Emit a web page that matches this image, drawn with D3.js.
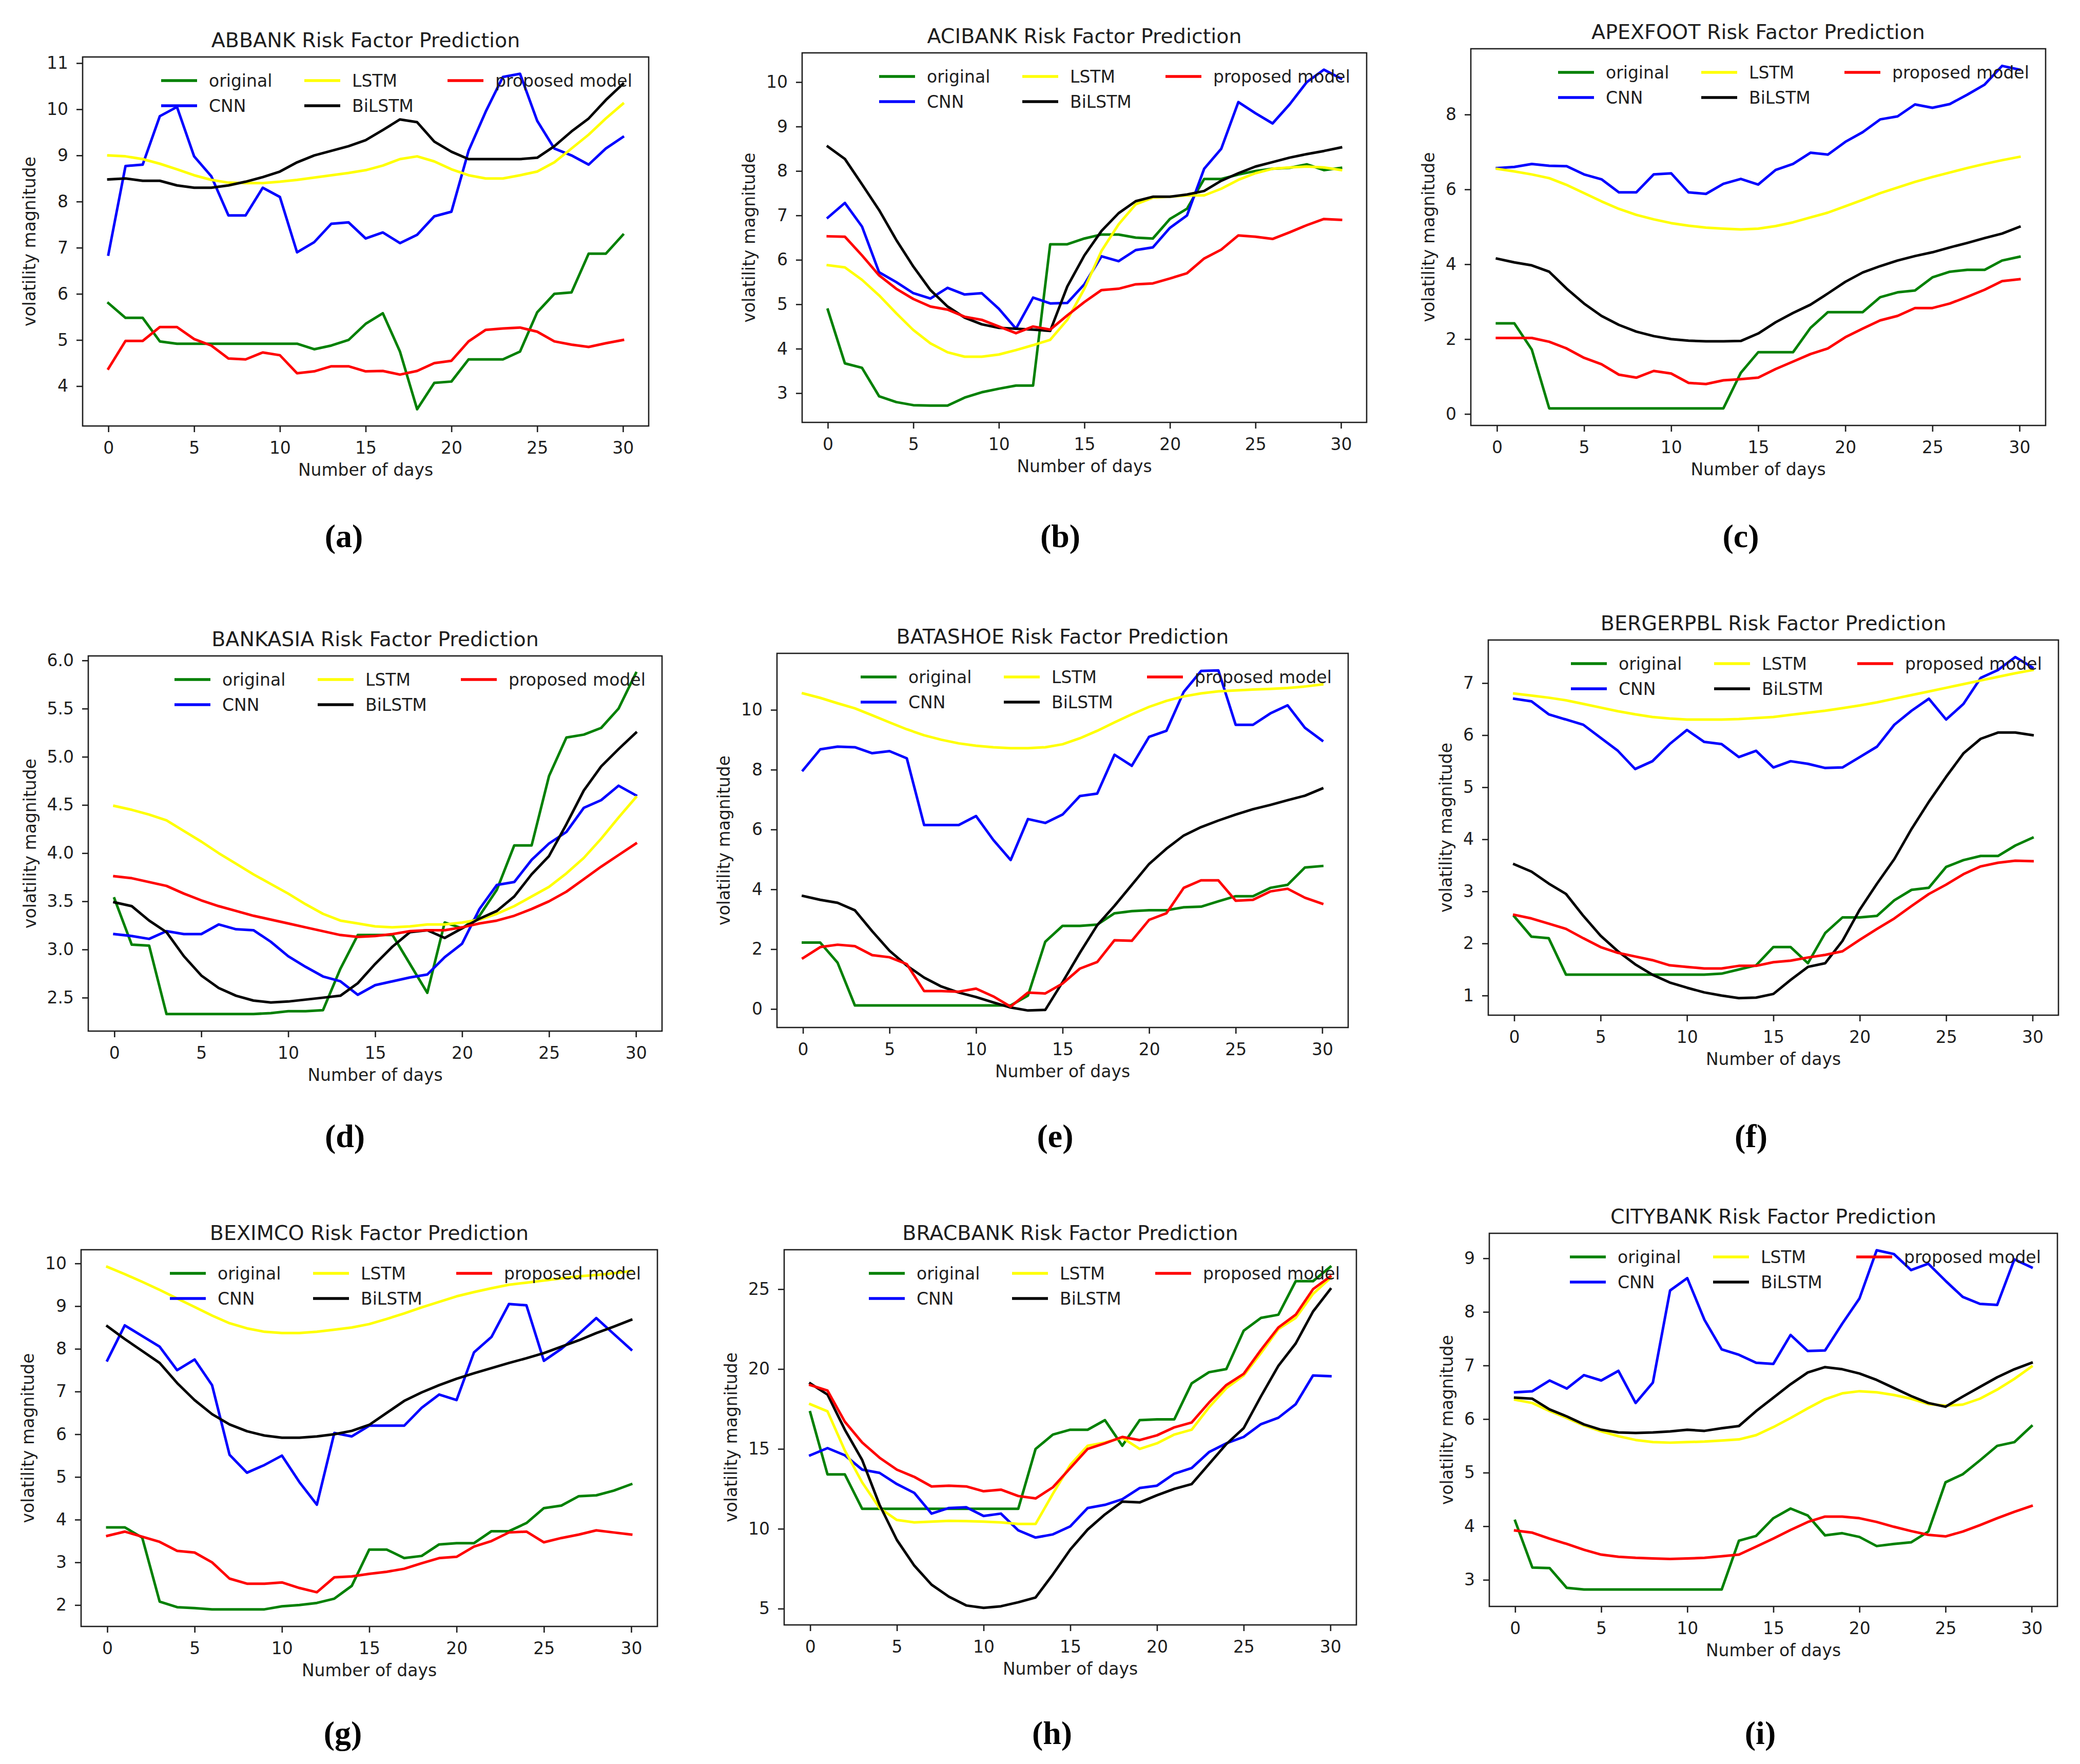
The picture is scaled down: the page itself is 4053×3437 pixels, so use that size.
<!DOCTYPE html>
<html>
<head>
<meta charset="utf-8">
<script src="https://cdn.jsdelivr.net/npm/d3@7"></script>
<style>
  body { margin: 0; background: #fff; }
</style>
</head>
<body>
<svg id="fig" width="4053" height="3437"></svg>
<script>
// ---- data ----
const days = [0,1,2,3,4,5,6,7,8,9,10,11,12,13,14,15,16,17,18,19,20,21,22,23,24,25,26,27,28,29,30];
const xTicks = [0,5,10,15,20,25,30];
const seriesNames = ["original", "CNN", "LSTM", "BiLSTM", "proposed model"];
const titles = ["ABBANK", "ACIBANK", "APEXFOOT", "BANKASIA", "BATASHOE", "BERGERPBL", "BEXIMCO", "BRACBANK", "CITYBANK"];
const subLabels = ["(a)", "(b)", "(c)", "(d)", "(e)", "(f)", "(g)", "(h)", "(i)"];

const abbankOriginal = [5.8,5.48,5.48,4.97,4.92,4.92,4.92,4.92,4.92,4.92,4.92,4.92,4.8,4.88,5.0,5.35,5.58,4.75,3.5,4.07,4.1,4.58,4.58,4.58,4.75,5.6,6.0,6.03,6.87,6.87,7.28];
const abbankCNN = [6.85,8.77,8.8,9.85,10.05,8.98,8.55,7.7,7.7,8.3,8.1,6.9,7.12,7.52,7.55,7.2,7.33,7.1,7.28,7.68,7.78,9.1,9.95,10.7,10.77,9.75,9.15,9.0,8.8,9.15,9.4];
const abbankLSTM = [9.0,8.98,8.92,8.82,8.7,8.57,8.47,8.41,8.4,8.4,8.43,8.47,8.52,8.57,8.62,8.68,8.78,8.92,8.98,8.87,8.7,8.57,8.5,8.5,8.57,8.65,8.85,9.15,9.45,9.8,10.12];
const abbankBiLSTM = [8.48,8.5,8.45,8.45,8.35,8.3,8.3,8.35,8.43,8.53,8.65,8.85,9.0,9.1,9.2,9.33,9.55,9.78,9.72,9.3,9.08,8.92,8.92,8.92,8.92,8.95,9.2,9.52,9.8,10.2,10.55];
const abbankProposed = [4.38,4.98,4.98,5.28,5.28,5.02,4.88,4.6,4.58,4.73,4.67,4.28,4.32,4.43,4.43,4.32,4.33,4.25,4.33,4.5,4.55,4.97,5.22,5.25,5.27,5.18,4.97,4.9,4.85,4.93,5.0];

const acibankOriginal = [4.88,3.67,3.57,2.93,2.8,2.73,2.72,2.72,2.9,3.02,3.1,3.17,3.17,6.35,6.35,6.48,6.57,6.57,6.5,6.48,6.92,7.15,7.82,7.82,7.92,8.0,8.05,8.07,8.15,8.02,8.07];
const acibankCNN = [6.95,7.28,6.75,5.72,5.5,5.25,5.13,5.37,5.22,5.25,4.9,4.45,5.15,5.02,5.03,5.45,6.08,5.97,6.22,6.28,6.72,7.0,8.05,8.5,9.55,9.3,9.07,9.5,10.0,10.28,10.08];
const acibankLSTM = [5.88,5.83,5.55,5.2,4.8,4.42,4.12,3.92,3.82,3.82,3.87,3.97,4.08,4.2,4.65,5.35,6.2,6.8,7.25,7.4,7.42,7.45,7.45,7.6,7.8,7.95,8.05,8.08,8.1,8.08,8.02];
const acibankBiLSTM = [8.55,8.27,7.7,7.12,6.45,5.85,5.32,4.95,4.7,4.55,4.47,4.45,4.43,4.4,5.4,6.1,6.65,7.05,7.32,7.42,7.42,7.47,7.55,7.78,7.95,8.1,8.2,8.3,8.38,8.45,8.53];
const acibankProposed = [6.53,6.52,6.1,5.65,5.35,5.12,4.95,4.88,4.72,4.65,4.5,4.35,4.5,4.43,4.75,5.05,5.32,5.35,5.45,5.47,5.58,5.7,6.03,6.23,6.55,6.52,6.47,6.62,6.78,6.92,6.9];

const apexOriginal = [2.42,2.42,1.72,0.15,0.15,0.15,0.15,0.15,0.15,0.15,0.15,0.15,0.15,0.15,1.1,1.65,1.65,1.65,2.3,2.72,2.72,2.72,3.12,3.25,3.3,3.65,3.8,3.85,3.85,4.1,4.2];
const apexCNN = [6.57,6.6,6.68,6.63,6.62,6.4,6.27,5.92,5.92,6.4,6.43,5.92,5.88,6.15,6.28,6.13,6.52,6.68,6.98,6.93,7.27,7.53,7.87,7.95,8.27,8.18,8.28,8.53,8.8,9.3,9.2];
const apexLSTM = [6.55,6.48,6.4,6.3,6.12,5.9,5.68,5.48,5.32,5.2,5.1,5.03,4.98,4.95,4.93,4.95,5.02,5.12,5.25,5.38,5.55,5.72,5.9,6.05,6.2,6.33,6.45,6.57,6.68,6.78,6.87];
const apexBiLSTM = [4.15,4.05,3.97,3.8,3.35,2.95,2.62,2.38,2.2,2.08,2.0,1.96,1.94,1.94,1.95,2.15,2.45,2.7,2.92,3.22,3.53,3.78,3.95,4.1,4.22,4.32,4.45,4.57,4.7,4.82,5.0];
const apexProposed = [2.03,2.03,2.03,1.93,1.75,1.5,1.33,1.05,0.97,1.15,1.08,0.83,0.8,0.9,0.93,0.97,1.2,1.4,1.6,1.75,2.05,2.28,2.5,2.62,2.83,2.83,2.95,3.13,3.32,3.55,3.6];

const bankasiaOriginal = [3.53,3.05,3.04,2.33,2.33,2.33,2.33,2.33,2.33,2.34,2.36,2.36,2.37,2.8,3.15,3.15,3.15,2.85,2.55,3.28,3.22,3.35,3.62,4.08,4.08,4.8,5.2,5.23,5.3,5.5,5.87];
const bankasiaCNN = [3.16,3.14,3.11,3.19,3.16,3.16,3.26,3.21,3.2,3.08,2.93,2.82,2.72,2.67,2.53,2.63,2.67,2.71,2.74,2.92,3.06,3.42,3.67,3.7,3.93,4.1,4.22,4.47,4.55,4.7,4.6];
const bankasiaLSTM = [4.49,4.45,4.4,4.34,4.23,4.12,4.0,3.89,3.78,3.68,3.58,3.47,3.37,3.3,3.27,3.24,3.23,3.24,3.26,3.26,3.28,3.31,3.37,3.45,3.55,3.65,3.79,3.95,4.15,4.37,4.58];
const bankasiaBiLSTM = [3.49,3.45,3.3,3.18,2.93,2.73,2.6,2.52,2.47,2.45,2.46,2.48,2.5,2.52,2.65,2.85,3.03,3.18,3.2,3.12,3.22,3.32,3.4,3.55,3.78,3.97,4.3,4.65,4.9,5.08,5.25];
const bankasiaProposed = [3.76,3.74,3.7,3.66,3.58,3.51,3.45,3.4,3.35,3.31,3.27,3.23,3.19,3.15,3.13,3.14,3.16,3.19,3.2,3.2,3.23,3.27,3.3,3.35,3.42,3.5,3.6,3.73,3.86,3.98,4.1];

const batashoeOriginal = [2.22,2.22,1.55,0.12,0.12,0.12,0.12,0.12,0.12,0.12,0.12,0.12,0.12,0.45,2.25,2.78,2.78,2.82,3.2,3.27,3.3,3.3,3.4,3.42,3.6,3.77,3.77,4.05,4.15,4.73,4.78];
const batashoeCNN = [7.98,8.68,8.77,8.75,8.55,8.62,8.38,6.15,6.15,6.15,6.45,5.65,4.98,6.35,6.22,6.5,7.12,7.2,8.5,8.13,9.1,9.3,10.6,11.3,11.32,9.5,9.5,9.88,10.15,9.4,8.97];
const batashoeLSTM = [10.55,10.4,10.22,10.05,9.82,9.58,9.35,9.15,9.0,8.88,8.8,8.75,8.72,8.72,8.75,8.85,9.05,9.3,9.58,9.85,10.1,10.3,10.45,10.55,10.62,10.65,10.68,10.7,10.73,10.78,10.85];
const batashoeBiLSTM = [3.78,3.65,3.55,3.3,2.6,1.95,1.45,1.05,0.75,0.55,0.4,0.22,0.05,-0.05,-0.03,0.9,1.88,2.8,3.45,4.15,4.85,5.36,5.8,6.08,6.3,6.5,6.68,6.82,6.98,7.13,7.37];
const batashoeProposed = [1.7,2.07,2.15,2.1,1.8,1.73,1.5,0.6,0.6,0.58,0.68,0.42,0.08,0.55,0.52,0.85,1.35,1.57,2.3,2.28,2.98,3.2,4.05,4.3,4.3,3.62,3.65,3.93,4.02,3.72,3.52];

const bergerOriginal = [2.52,2.13,2.1,1.4,1.4,1.4,1.4,1.4,1.4,1.4,1.4,1.4,1.42,1.5,1.58,1.93,1.93,1.62,2.2,2.5,2.5,2.53,2.83,3.03,3.07,3.47,3.6,3.68,3.68,3.88,4.03];
const bergerCNN = [6.7,6.65,6.4,6.3,6.2,5.95,5.7,5.35,5.5,5.83,6.1,5.87,5.83,5.58,5.7,5.38,5.5,5.45,5.37,5.38,5.58,5.78,6.2,6.47,6.7,6.3,6.6,7.1,7.25,7.5,7.3];
const bergerLSTM = [6.8,6.76,6.72,6.67,6.6,6.53,6.46,6.4,6.35,6.32,6.3,6.3,6.3,6.31,6.33,6.35,6.39,6.43,6.47,6.52,6.57,6.63,6.7,6.77,6.84,6.91,6.98,7.05,7.12,7.19,7.25];
const bergerBiLSTM = [3.52,3.38,3.15,2.95,2.53,2.15,1.85,1.6,1.4,1.25,1.15,1.06,1.0,0.95,0.96,1.03,1.3,1.55,1.62,2.05,2.65,3.15,3.62,4.2,4.72,5.2,5.65,5.93,6.05,6.05,6.0];
const bergerProposed = [2.55,2.48,2.38,2.28,2.1,1.93,1.82,1.75,1.68,1.58,1.55,1.52,1.52,1.57,1.57,1.64,1.67,1.73,1.78,1.85,2.07,2.28,2.48,2.72,2.95,3.13,3.33,3.48,3.55,3.59,3.58];

const beximcoOriginal = [3.82,3.82,3.58,2.08,1.95,1.93,1.9,1.9,1.9,1.9,1.97,2.0,2.05,2.15,2.45,3.3,3.3,3.1,3.15,3.42,3.45,3.45,3.73,3.73,3.92,4.27,4.33,4.55,4.57,4.68,4.83];
const beximcoCNN = [7.73,8.55,8.3,8.05,7.5,7.75,7.15,5.52,5.1,5.28,5.5,4.88,4.35,6.03,5.95,6.2,6.2,6.2,6.62,6.93,6.8,7.92,8.28,9.05,9.02,7.72,8.0,8.35,8.72,8.35,7.98];
const beximcoLSTM = [9.92,9.75,9.57,9.38,9.18,8.98,8.78,8.6,8.48,8.4,8.37,8.37,8.4,8.45,8.5,8.58,8.7,8.83,8.97,9.1,9.23,9.33,9.42,9.5,9.55,9.6,9.65,9.7,9.73,9.77,9.82];
const beximcoBiLSTM = [8.53,8.23,7.95,7.67,7.2,6.8,6.47,6.23,6.07,5.97,5.92,5.92,5.95,6.0,6.08,6.22,6.5,6.78,6.98,7.15,7.3,7.43,7.55,7.67,7.78,7.9,8.05,8.2,8.37,8.52,8.68];
const beximcoProposed = [3.62,3.72,3.6,3.48,3.27,3.23,3.0,2.62,2.5,2.5,2.53,2.4,2.3,2.65,2.67,2.73,2.78,2.85,2.98,3.1,3.13,3.37,3.5,3.7,3.72,3.47,3.57,3.65,3.75,3.7,3.65];

const bracOriginal = [17.3,13.4,13.4,11.25,11.25,11.25,11.25,11.25,11.25,11.25,11.25,11.25,11.25,15.0,15.9,16.2,16.2,16.8,15.2,16.8,16.85,16.85,19.1,19.8,20.0,22.4,23.2,23.4,25.5,25.5,26.4];
const bracCNN = [14.6,15.05,14.6,13.7,13.5,12.8,12.25,10.95,11.3,11.35,10.8,10.95,9.9,9.45,9.65,10.15,11.3,11.5,11.85,12.55,12.7,13.45,13.8,14.8,15.35,15.75,16.55,16.95,17.8,19.6,19.55];
const bracLSTM = [17.8,17.35,14.9,12.9,11.3,10.55,10.4,10.45,10.5,10.48,10.45,10.4,10.3,10.3,12.2,14.0,15.2,15.4,15.7,15.0,15.35,15.9,16.2,17.6,18.8,19.6,21.0,22.5,23.2,24.7,25.7];
const bracBiLSTM = [19.1,18.4,16.2,14.3,11.5,9.3,7.7,6.5,5.75,5.2,5.05,5.15,5.4,5.7,7.15,8.7,9.95,10.9,11.7,11.65,12.1,12.5,12.8,14.05,15.3,16.3,18.3,20.2,21.6,23.6,25.0];
const bracProposed = [19.0,18.65,16.7,15.4,14.45,13.7,13.25,12.65,12.7,12.65,12.35,12.45,12.05,11.9,12.6,13.8,15.0,15.35,15.75,15.55,15.85,16.35,16.65,17.9,19.0,19.7,21.2,22.6,23.4,25.0,25.8];

const cityOriginal = [4.1,3.23,3.22,2.85,2.82,2.82,2.82,2.82,2.82,2.82,2.82,2.82,2.82,3.73,3.82,4.15,4.33,4.2,3.83,3.87,3.8,3.63,3.67,3.7,3.9,4.82,4.97,5.23,5.5,5.57,5.87];
const cityCNN = [6.5,6.52,6.72,6.57,6.82,6.72,6.9,6.3,6.68,8.4,8.63,7.85,7.3,7.2,7.05,7.03,7.57,7.27,7.28,7.78,8.25,9.15,9.08,8.78,8.9,8.58,8.28,8.15,8.13,8.98,8.83];
const cityLSTM = [6.36,6.3,6.15,6.02,5.88,5.77,5.68,5.61,5.57,5.56,5.57,5.58,5.6,5.62,5.7,5.85,6.02,6.2,6.37,6.48,6.52,6.5,6.45,6.38,6.28,6.25,6.27,6.38,6.55,6.75,6.98];
const cityBiLSTM = [6.4,6.38,6.18,6.05,5.9,5.8,5.75,5.74,5.75,5.77,5.8,5.78,5.83,5.87,6.15,6.4,6.65,6.87,6.97,6.93,6.85,6.73,6.58,6.43,6.3,6.23,6.42,6.6,6.78,6.93,7.05];
const cityProposed = [3.92,3.88,3.77,3.67,3.56,3.47,3.43,3.41,3.4,3.39,3.4,3.41,3.44,3.47,3.62,3.77,3.93,4.08,4.18,4.18,4.15,4.08,3.99,3.91,3.84,3.81,3.9,4.02,4.15,4.27,4.38];

const yTicks = [
  [4,5,6,7,8,9,10,11],
  [3,4,5,6,7,8,9,10],
  [0,2,4,6,8],
  [2.5,3.0,3.5,4.0,4.5,5.0,5.5,6.0],
  [0,2,4,6,8,10],
  [1,2,3,4,5,6,7],
  [2,3,4,5,6,7,8,9,10],
  [5,10,15,20,25],
  [3,4,5,6,7,8,9]
];
const yFormats = ["d", "d", "d", ".1f", "d", "d", "d", "d", "d"];

const panels = [
  [abbankOriginal, abbankCNN, abbankLSTM, abbankBiLSTM, abbankProposed],
  [acibankOriginal, acibankCNN, acibankLSTM, acibankBiLSTM, acibankProposed],
  [apexOriginal, apexCNN, apexLSTM, apexBiLSTM, apexProposed],
  [bankasiaOriginal, bankasiaCNN, bankasiaLSTM, bankasiaBiLSTM, bankasiaProposed],
  [batashoeOriginal, batashoeCNN, batashoeLSTM, batashoeBiLSTM, batashoeProposed],
  [bergerOriginal, bergerCNN, bergerLSTM, bergerBiLSTM, bergerProposed],
  [beximcoOriginal, beximcoCNN, beximcoLSTM, beximcoBiLSTM, beximcoProposed],
  [bracOriginal, bracCNN, bracLSTM, bracBiLSTM, bracProposed],
  [cityOriginal, cityCNN, cityLSTM, cityBiLSTM, cityProposed]
];

// ---- layout (pixels) ----
const colors = ["green", "blue", "yellow", "black", "red"];
const frames = [
  {l: 161,  r: 1264, t: 111,  b: 830},
  {l: 1563, r: 2663, t: 103,  b: 823},
  {l: 2866, r: 3986, t: 95,   b: 829},
  {l: 172,  r: 1290, t: 1278, b: 2009},
  {l: 1514, r: 2627, t: 1273, b: 2002},
  {l: 2900, r: 4011, t: 1247, b: 1978},
  {l: 158,  r: 1281, t: 2435, b: 3169},
  {l: 1528, r: 2643, t: 2435, b: 3166},
  {l: 2902, r: 4009, t: 2403, b: 3130}
];
const labelPos = [
  [670, 1066], [2066, 1066], [3392, 1066],
  [672, 2235], [2056, 2235], [3412, 2235],
  [668, 3398], [2050, 3398], [3430, 3398]
];
const FONT = "DejaVu Sans";
const fs = 33;          // tick / legend / label size
const ink = "#1e1e1e";

const svg = d3.select("#fig");
svg.append("rect").attr("width", 4053).attr("height", 3437).attr("fill", "#fff");

panels.forEach(function(series, k) {
  const f = frames[k];
  const g = svg.append("g");

  // matplotlib style autoscale: data range plus 5% margin
  const all = series.flat();
  const lo = d3.min(all), hi = d3.max(all), m = (hi - lo) * 0.05;
  const x = d3.scaleLinear().domain([-1.5, 31.5]).range([f.l, f.r]);
  const y = d3.scaleLinear().domain([lo - m, hi + m]).range([f.b, f.t]);

  g.append("clipPath").attr("id", "clip" + k)
    .append("rect").attr("x", f.l).attr("y", f.t).attr("width", f.r - f.l).attr("height", f.b - f.t);

  const line = d3.line()
    .x(function(d, i) { return x(days[i]); })
    .y(function(d) { return y(d); });

  // draw each series
  g.append("g").attr("clip-path", "url(#clip" + k + ")")
    .selectAll("path")
    .data(series)
    .enter()
    .append("path")
      .attr("d", line)
      .attr("fill", "none")
      .attr("stroke", function(d, i) { return colors[i]; })
      .attr("stroke-width", 5)
      .attr("stroke-linejoin", "round")
      .attr("stroke-linecap", "square");

  // frame
  g.append("rect")
    .attr("x", f.l).attr("y", f.t).attr("width", f.r - f.l).attr("height", f.b - f.t)
    .attr("fill", "none").attr("stroke", ink).attr("stroke-width", 2.6);

  // axes
  const xa = g.append("g").attr("transform", "translate(0," + f.b + ")")
    .call(d3.axisBottom(x).tickValues(xTicks).tickFormat(d3.format("d")).tickSize(12).tickSizeOuter(0).tickPadding(19));
  const ya = g.append("g").attr("transform", "translate(" + f.l + ",0)")
    .call(d3.axisLeft(y).tickValues(yTicks[k]).tickFormat(d3.format(yFormats[k])).tickSize(12).tickSizeOuter(0).tickPadding(16));
  [xa, ya].forEach(function(a) {
    a.select(".domain").remove();
    a.attr("font-size", fs).attr("font-family", FONT);
    a.selectAll("line").attr("stroke", ink).attr("stroke-width", 2.6);
    a.selectAll("text").attr("fill", ink);
  });

  let maxW = 0;
  ya.selectAll("text").each(function() { maxW = Math.max(maxW, this.getBBox().width); });

  // title
  g.append("text")
    .attr("x", (f.l + f.r) / 2).attr("y", f.t - 19)
    .attr("text-anchor", "middle").attr("font-family", FONT).attr("font-size", 39.6).attr("fill", ink)
    .text(titles[k] + " Risk Factor Prediction");

  // x label
  g.append("text")
    .attr("x", (f.l + f.r) / 2).attr("y", f.b + 97)
    .attr("text-anchor", "middle").attr("font-family", FONT).attr("font-size", fs).attr("fill", ink)
    .text("Number of days");

  // y label
  g.append("text")
    .attr("transform", "translate(" + (f.l - 28 - maxW - 22) + "," + ((f.t + f.b) / 2) + ") rotate(-90)")
    .attr("text-anchor", "middle").attr("font-family", FONT).attr("font-size", fs).attr("fill", ink)
    .text("volatility magnitude");

  // legend, 3 columns, no frame, upper right
  const lg = g.append("g");
  seriesNames.forEach(function(name, i) {
    const col = Math.floor(i / 2), row = i % 2;
    const hx = f.r - 950 + col * 279;
    const hy = f.t + 46 + row * 49;
    lg.append("line")
      .attr("x1", hx).attr("x2", hx + 70).attr("y1", hy).attr("y2", hy)
      .attr("stroke", colors[i]).attr("stroke-width", 5.5);
    lg.append("text")
      .attr("x", hx + 93).attr("y", hy + 12)
      .attr("font-family", FONT).attr("font-size", fs).attr("fill", ink)
      .text(name);
  });

  // sub-figure label
  svg.append("text")
    .attr("x", labelPos[k][0]).attr("y", labelPos[k][1])
    .attr("text-anchor", "middle")
    .attr("font-family", "Liberation Serif").attr("font-weight", "bold").attr("font-size", 64)
    .attr("fill", "#000")
    .text(subLabels[k]);
});
</script>
</body>
</html>
